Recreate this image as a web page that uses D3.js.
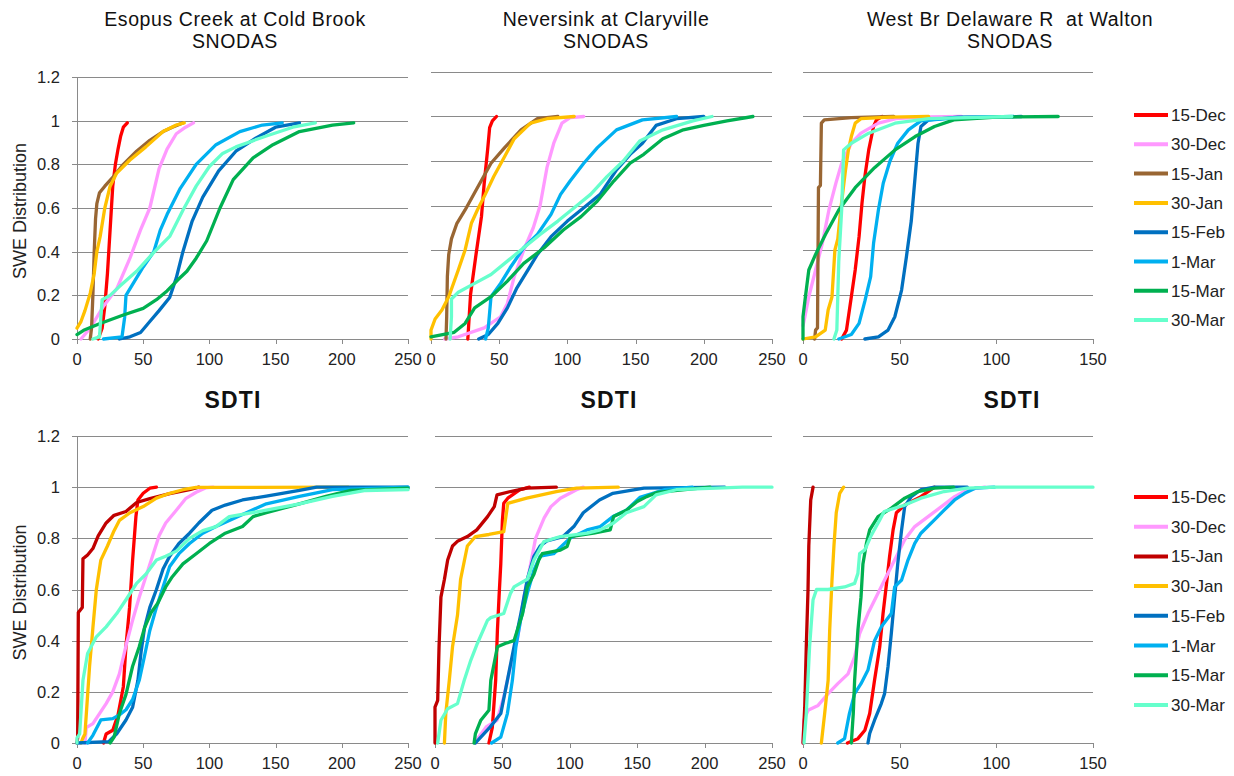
<!DOCTYPE html>
<html>
<head>
<meta charset="utf-8">
<script src="https://cdn.jsdelivr.net/npm/d3@7"></script>
<style>
  body { margin: 0; background: #fff; }
  svg { display: block; font-family: "Liberation Sans", Arial, sans-serif; }
</style>
</head>
<body>
<svg id="chart" width="1234" height="776"></svg>
<script>
// legend / series names (same order in every panel)
const dates = ['15-Dec', '30-Dec', '15-Jan', '30-Jan', '15-Feb', '1-Mar', '15-Mar', '30-Mar'];
const colorsSnodas = ['#ff0000', '#ff99ff', '#996633', '#ffc000', '#0070c0', '#00b0f0', '#00b050', '#66ffcc'];
const colorsSdti   = ['#ff0000', '#ff99ff', '#c00000', '#ffc000', '#0070c0', '#00b0f0', '#00b050', '#66ffcc'];
const xTicksWide = [0, 50, 100, 150, 200, 250];
const xTicksNarrow = [0, 50, 100, 150];
const yTicks = [0, 0.2, 0.4, 0.6, 0.8, 1, 1.2];

// each series: [SWE, cumulative fraction]
const esopusSnodas = [
  [[16,0],[19,0.05],[21,0.15],[23,0.3],[25,0.5],[27,0.7],[29,0.8],[31,0.87],[33,0.93],[35,0.97],[38,0.99]],
  [[3,0],[10,0.05],[20,0.15],[30,0.23],[40,0.37],[48,0.5],[55,0.6],[62,0.78],[68,0.87],[75,0.94],[82,0.97],[88,0.99]],
  [[10,0],[11,0.05],[12,0.2],[13,0.4],[14,0.55],[15,0.62],[17,0.67],[21,0.7],[27,0.74],[35,0.8],[45,0.86],[55,0.91],[65,0.95],[72,0.97],[80,0.99]],
  [[0,0.05],[3,0.08],[6,0.13],[10,0.21],[13,0.3],[15,0.4],[17.5,0.47],[21,0.6],[25,0.7],[30,0.76],[40,0.82],[52,0.88],[65,0.95],[75,0.98],[81,0.99]],
  [[32,0],[40,0.01],[48,0.03],[55,0.08],[62,0.13],[70,0.19],[75,0.28],[80,0.4],[87,0.54],[95,0.65],[107,0.77],[120,0.86],[135,0.92],[150,0.97],[168,0.99]],
  [[20,0],[34,0.01],[36,0.1],[37,0.2],[42,0.25],[50,0.33],[58,0.4],[63,0.5],[68,0.57],[78,0.69],[90,0.8],[105,0.89],[123,0.95],[140,0.98],[155,0.99]],
  [[0,0.02],[5,0.04],[17,0.07],[35,0.11],[50,0.14],[60,0.18],[68,0.22],[76,0.27],[83,0.31],[90,0.37],[98,0.45],[108,0.6],[118,0.73],[133,0.83],[148,0.89],[168,0.95],[193,0.98],[209,0.99]],
  [[12,0],[17,0.01],[18,0.1],[19,0.18],[25,0.2],[32,0.24],[45,0.31],[57,0.39],[70,0.47],[80,0.59],[90,0.7],[100,0.79],[110,0.85],[120,0.88],[143,0.93],[163,0.97],[180,0.99]]
];
const neversinkSnodas = [
  [[27,0],[28,0.1],[29,0.2],[33,0.38],[37,0.55],[39,0.7],[41.5,0.85],[43,0.95],[45,0.98],[48,1]],
  [[10,0],[20,0.01],[39,0.05],[51,0.1],[56,0.16],[61,0.28],[68,0.4],[75,0.5],[80,0.6],[85,0.77],[90,0.88],[96,0.97],[102,0.995],[112,1]],
  [[11,0],[11.5,0.1],[12,0.28],[13,0.38],[15,0.45],[19,0.52],[25,0.58],[34,0.68],[44,0.79],[54,0.86],[66,0.94],[78,0.99],[93,1]],
  [[0,0],[0,0.04],[3,0.09],[8,0.13],[13,0.19],[20,0.31],[25,0.4],[29.6,0.52],[34,0.58],[39,0.64],[46,0.73],[54,0.82],[61,0.9],[73,0.97],[85,0.99],[105,1]],
  [[35,0],[42,0.02],[49,0.07],[56,0.14],[63,0.23],[71,0.31],[78,0.38],[88,0.46],[100,0.53],[112,0.59],[124,0.65],[136,0.76],[146,0.83],[155,0.88],[165,0.96],[180,0.99],[200,1]],
  [[40,0],[42,0.05],[44,0.19],[51,0.25],[58,0.32],[68,0.41],[78,0.47],[88,0.56],[95,0.65],[102,0.71],[112,0.79],[122,0.86],[136,0.94],[155,0.985],[180,1]],
  [[0,0.01],[17,0.03],[25,0.07],[32,0.14],[44,0.19],[56,0.26],[68,0.34],[83,0.41],[97,0.49],[110,0.55],[122,0.62],[134,0.71],[146,0.79],[156,0.83],[170,0.9],[185,0.94],[200,0.96],[217,0.98],[236,1]],
  [[14,0],[15,0.1],[15,0.18],[20,0.21],[32,0.25],[44,0.29],[56,0.35],[68,0.41],[80,0.47],[93,0.53],[105,0.59],[117,0.65],[129,0.73],[141,0.8],[153,0.89],[170,0.94],[192,0.98],[206,1]]
];
const waltonSnodas = [
  [[20,0],[22.5,0.04],[25,0.19],[27,0.31],[29,0.46],[30.5,0.61],[32,0.73],[34,0.85],[36.5,0.955],[38,0.985],[41,1]],
  [[0,0.06],[1,0.1],[3,0.19],[6.5,0.31],[10,0.43],[13.4,0.58],[17,0.7],[20,0.79],[25,0.88],[30,0.925],[39,0.97],[48,0.99],[65,0.998],[82,1]],
  [[6,0],[6.5,0.04],[7.5,0.05],[8,0.68],[9,0.69],[9.5,0.97],[11,0.985],[25,0.995],[47,1]],
  [[0,0],[6.5,0.01],[11.5,0.04],[13,0.13],[15,0.19],[16.5,0.4],[18,0.45],[19.5,0.58],[22,0.76],[23.5,0.85],[25,0.91],[27,0.97],[30,0.99],[45,0.997],[65,1]],
  [[32,0],[39,0.01],[44,0.04],[47.5,0.1],[51,0.22],[53.5,0.37],[56,0.53],[58,0.73],[59.5,0.88],[61,0.955],[65,0.985],[80,0.997],[113,1]],
  [[18.5,0],[25,0.02],[29,0.07],[32,0.17],[35,0.28],[36.5,0.43],[39,0.58],[41.5,0.7],[45,0.8],[49,0.88],[54.5,0.94],[61,0.98],[80,0.995],[109,1]],
  [[0,0],[0,0.1],[1.4,0.2],[3,0.31],[6.5,0.38],[11.6,0.47],[18.5,0.58],[27,0.68],[37,0.77],[47.6,0.85],[58,0.91],[68,0.955],[78,0.985],[100,0.997],[132,1]],
  [[16,0],[17.5,0.04],[18.5,0.35],[20,0.58],[21,0.85],[25,0.88],[34,0.925],[47.6,0.97],[65,0.99],[108,1]]
];
const esopusSdti = [
  [[20,0],[22,0.035],[27,0.05],[31,0.11],[35,0.22],[37,0.38],[39.7,0.53],[42,0.715],[44.5,0.885],[46,0.95],[50,0.976],[55,0.996],[60,1]],
  [[6,0],[7,0.06],[12,0.076],[17,0.115],[22,0.154],[27,0.2],[32,0.27],[37,0.38],[42,0.48],[47,0.57],[52,0.65],[57,0.73],[62,0.81],[67,0.86],[75,0.91],[82,0.955],[90,0.98],[97,0.997],[103,1]],
  [[0,0],[0.5,0.02],[1,0.51],[4,0.53],[4.5,0.72],[8,0.735],[12,0.76],[16,0.81],[22,0.86],[28,0.89],[37,0.905],[45,0.94],[55,0.955],[70,0.975],[85,0.99],[92,1]],
  [[3,0],[4.5,0.02],[6,0.035],[9.5,0.3],[12,0.45],[14.6,0.6],[18,0.715],[23,0.77],[28,0.83],[32,0.87],[40,0.9],[50,0.924],[60,0.957],[70,0.976],[80,0.99],[90,0.999],[205,1]],
  [[0,0],[24,0.005],[30,0.036],[37,0.09],[42,0.14],[46,0.245],[48.5,0.36],[51,0.45],[55,0.53],[60,0.6],[65,0.68],[70,0.73],[77,0.78],[85,0.82],[92,0.86],[102,0.91],[112,0.93],[125,0.95],[143,0.965],[168,0.987],[181,1],[250,1]],
  [[8,0],[12,0.03],[18,0.09],[27,0.095],[32,0.11],[37,0.13],[42,0.17],[47,0.245],[51,0.34],[55,0.44],[60,0.53],[65,0.61],[70,0.69],[77,0.74],[85,0.78],[95,0.82],[105,0.846],[115,0.87],[130,0.905],[143,0.935],[168,0.964],[193,0.99],[250,1]],
  [[25,0],[28,0.023],[32,0.115],[37,0.19],[42,0.3],[47,0.376],[51,0.45],[56,0.51],[61,0.546],[67,0.61],[72,0.65],[80,0.7],[90,0.74],[100,0.78],[112,0.82],[125,0.846],[133,0.885],[143,0.9],[168,0.935],[188,0.964],[206,0.987],[250,0.996]],
  [[0,0],[0,0.02],[2,0.036],[4.5,0.245],[8,0.35],[14.6,0.415],[22,0.454],[30,0.506],[37,0.56],[45,0.624],[52,0.66],[60,0.715],[67,0.73],[75,0.75],[85,0.8],[95,0.83],[105,0.846],[115,0.885],[143,0.91],[168,0.935],[193,0.964],[218,0.987],[250,0.99]]
];
const neversinkSdti = [
  [[40,0],[42.5,0.06],[45,0.245],[46.3,0.44],[47.5,0.57],[48.8,0.7],[50,0.87],[51,0.937],[54,0.957],[63,0.99],[70,1]],
  [[30,0],[31.5,0.017],[38,0.063],[46,0.089],[51,0.18],[56,0.3],[61,0.4],[66,0.57],[71,0.7],[74.6,0.8],[81,0.88],[86,0.924],[93,0.957],[105,0.99],[110,1]],
  [[0,0],[0,0.14],[2,0.167],[3,0.376],[4.4,0.57],[7,0.64],[9.4,0.715],[13,0.77],[17,0.79],[24,0.807],[31,0.833],[39,0.885],[44,0.924],[46,0.97],[56,0.983],[68,0.996],[90,1]],
  [[7,0],[8,0.115],[10.6,0.245],[13,0.376],[16.7,0.5],[19,0.64],[24,0.77],[30,0.807],[40,0.815],[51,0.826],[54,0.937],[68,0.957],[90,0.983],[105,0.996],[136,1]],
  [[30,0],[34,0.023],[41,0.063],[48.8,0.115],[53.7,0.245],[58.6,0.376],[63.5,0.5],[68.5,0.64],[73.4,0.73],[78,0.77],[83,0.79],[95,0.807],[103,0.846],[110,0.9],[122,0.95],[132,0.976],[155,0.996],[215,1]],
  [[42,0],[48.8,0.023],[53.7,0.115],[57.4,0.245],[60,0.376],[63.5,0.48],[68.5,0.585],[73.4,0.676],[78,0.73],[88,0.74],[100,0.8],[112.8,0.833],[122.6,0.846],[132,0.885],[142,0.91],[152,0.96],[170,0.99],[191,1]],
  [[29,0],[30,0.037],[34,0.089],[40,0.128],[41.4,0.245],[46.3,0.376],[52.5,0.39],[58.6,0.4],[61,0.44],[65,0.506],[68.5,0.61],[73.4,0.66],[77,0.715],[79.5,0.74],[93,0.754],[98,0.768],[100.5,0.807],[117.7,0.82],[130,0.833],[132.5,0.885],[142,0.91],[150,0.944],[157,0.963],[165,0.98],[204,1]],
  [[2,0],[4.4,0.089],[9.4,0.134],[16.7,0.154],[21.7,0.245],[26.6,0.324],[31.5,0.39],[39,0.48],[41.4,0.49],[51,0.506],[56,0.585],[58.6,0.61],[68.5,0.64],[73.4,0.715],[80.8,0.787],[93,0.807],[113,0.82],[122.6,0.833],[132.5,0.86],[142,0.9],[155,0.924],[164,0.97],[179,0.99],[228,1],[250,1]]
];
const waltonSdti = [
  [[23,0],[28.4,0.017],[32,0.05],[34.5,0.115],[37,0.245],[39.7,0.376],[41.4,0.506],[43,0.61],[44.8,0.73],[46.6,0.833],[48.3,0.9],[52.6,0.93],[61,0.963],[68,1]],
  [[0,0],[0.5,0.09],[2.6,0.128],[7.8,0.147],[13,0.193],[18,0.232],[23.3,0.27],[26.7,0.337],[29.3,0.428],[33.6,0.506],[38.8,0.585],[42.2,0.637],[47.4,0.715],[52.6,0.794],[57.8,0.846],[64.7,0.885],[71.6,0.924],[78.4,0.963],[85,0.99],[94,1]],
  [[0,0],[0.9,0.14],[1.7,0.376],[2.6,0.6],[3,0.77],[4,0.95],[5.2,1]],
  [[9.5,0],[11.2,0.115],[13,0.245],[13.8,0.44],[15,0.637],[16,0.77],[17.2,0.9],[19,0.976],[21,1]],
  [[33.6,0],[34.5,0.037],[37,0.089],[40.5,0.154],[42.2,0.193],[44,0.3],[45.7,0.43],[47.4,0.57],[49,0.7],[51,0.833],[52.6,0.924],[56,0.963],[61,0.99],[68,1],[85,1]],
  [[18,0],[21.5,0.017],[24,0.115],[26.7,0.193],[30,0.232],[33.6,0.285],[37,0.4],[40.5,0.454],[45.7,0.506],[47.4,0.61],[51,0.637],[54.3,0.715],[57.8,0.78],[61,0.82],[68,0.872],[73,0.91],[78.4,0.95],[83.6,0.976],[89,0.996],[99,1]],
  [[25,0],[26,0.115],[26.7,0.245],[28.4,0.44],[30,0.57],[31,0.7],[32.8,0.78],[34.5,0.833],[38.8,0.885],[45.7,0.918],[52.6,0.957],[59.5,0.983],[68,0.996],[78,1]],
  [[0.5,0],[1.7,0.115],[3.4,0.376],[5.2,0.56],[7,0.6],[13,0.6],[21.5,0.61],[26.7,0.624],[28.4,0.663],[29.3,0.74],[32,0.755],[35,0.807],[39.7,0.872],[42,0.905],[52.6,0.93],[61,0.957],[73,0.983],[85,0.996],[100,1],[150,1]]
];

// layout of the 2x3 grid
const panels = [
  { data: esopusSnodas, colors: colorsSnodas, ticks: xTicksWide, box: [77, 408, 77, 339], yAxis: true,
    title: ['Esopus Creek at Cold Brook', 'SNODAS'], tx: 235, ty: 26 },
  { data: neversinkSnodas, colors: colorsSnodas, ticks: xTicksWide, box: [431, 772, 72, 339],
    title: ['Neversink at Claryville', 'SNODAS'], tx: 606, ty: 26 },
  { data: waltonSnodas, colors: colorsSnodas, ticks: xTicksNarrow, box: [803, 1093, 72, 339],
    title: ['West Br Delaware R  at Walton', 'SNODAS'], tx: 1010, ty: 26, legend: [115, 29.3] },
  { data: esopusSdti, colors: colorsSdti, ticks: xTicksWide, box: [77, 408, 436, 743], yAxis: true,
    title: ['SDTI'], bold: true, tx: 233, ty: 408 },
  { data: neversinkSdti, colors: colorsSdti, ticks: xTicksWide, box: [435, 772, 436, 743],
    title: ['SDTI'], bold: true, tx: 609, ty: 408 },
  { data: waltonSdti, colors: colorsSdti, ticks: xTicksNarrow, box: [803, 1093, 436, 743],
    title: ['SDTI'], bold: true, tx: 1012, ty: 408, legend: [497, 29.7] }
];

const svg = d3.select('#chart');
const gridColor = '#8a8a8a';

panels.forEach(p => {
  const [l, r, t, b] = p.box;
  const xMax = p.ticks[p.ticks.length - 1];
  const x = d3.scaleLinear().domain([0, xMax]).range([l, r]);
  const y = d3.scaleLinear().domain([0, 1.2]).range([b, t]);
  const g = svg.append('g');

  // horizontal gridlines (tick stubs to the left only where y axis is shown)
  yTicks.forEach(v => {
    g.append('line').attr('x1', p.yAxis ? l - 5 : l).attr('x2', r)
      .attr('y1', Math.round(y(v)) + 0.5).attr('y2', Math.round(y(v)) + 0.5)
      .attr('stroke', gridColor).attr('stroke-width', 1);
  });

  if (p.yAxis) {
    g.append('line').attr('x1', l + 0.5).attr('x2', l + 0.5).attr('y1', t).attr('y2', b)
      .attr('stroke', gridColor);
    g.selectAll('.ylab').data(yTicks).join('text')
      .attr('x', l - 17).attr('y', v => y(v) + 6)
      .attr('text-anchor', 'end').attr('font-size', 16.5).attr('fill', '#222')
      .text(v => String(v));
    g.append('text')
      .attr('transform', `translate(26,${(t + b) / 2 + 3}) rotate(-90)`)
      .attr('text-anchor', 'middle').attr('font-size', 18).attr('fill', '#222')
      .text('SWE Distribution');
  }

  // x ticks + labels
  p.ticks.forEach(v => {
    g.append('line').attr('x1', Math.round(x(v)) + 0.5).attr('x2', Math.round(x(v)) + 0.5)
      .attr('y1', b).attr('y2', b + 5).attr('stroke', gridColor);
  });
  g.selectAll('.xlab').data(p.ticks).join('text')
    .attr('x', v => x(v)).attr('y', b + 26)
    .attr('text-anchor', 'middle').attr('font-size', 16.5).attr('fill', '#222')
    .text(v => v);

  // CDF curves, first date drawn first
  const line = d3.line().x(d => x(d[0])).y(d => y(d[1]));
  g.append('g').selectAll('path').data(p.data).join('path')
    .attr('d', line).attr('fill', 'none')
    .attr('stroke', (d, i) => p.colors[i]).attr('stroke-width', 3.3)
    .attr('stroke-linejoin', 'round').attr('stroke-linecap', 'round');

  // title
  p.title.forEach((s, i) => {
    g.append('text').attr('x', p.tx).attr('y', p.ty + i * 22)
      .attr('text-anchor', 'middle').attr('font-size', p.bold ? 23 : 19.5)
      .attr('letter-spacing', p.bold ? 1.2 : 0.6)
      .attr('font-weight', p.bold ? 'bold' : 'normal').attr('fill', '#111')
      .style('white-space', 'pre')
      .text(s);
  });

  // legend
  if (p.legend) {
    const [y0, step] = p.legend;
    dates.forEach((dname, i) => {
      const yy = y0 + i * step;
      g.append('line').attr('x1', 1134).attr('x2', 1168).attr('y1', yy).attr('y2', yy)
        .attr('stroke', p.colors[i]).attr('stroke-width', 4);
      g.append('text').attr('x', 1171).attr('y', yy + 6)
        .attr('font-size', 17).attr('fill', '#222').text(dname);
    });
  }
});
</script>
</body>
</html>
